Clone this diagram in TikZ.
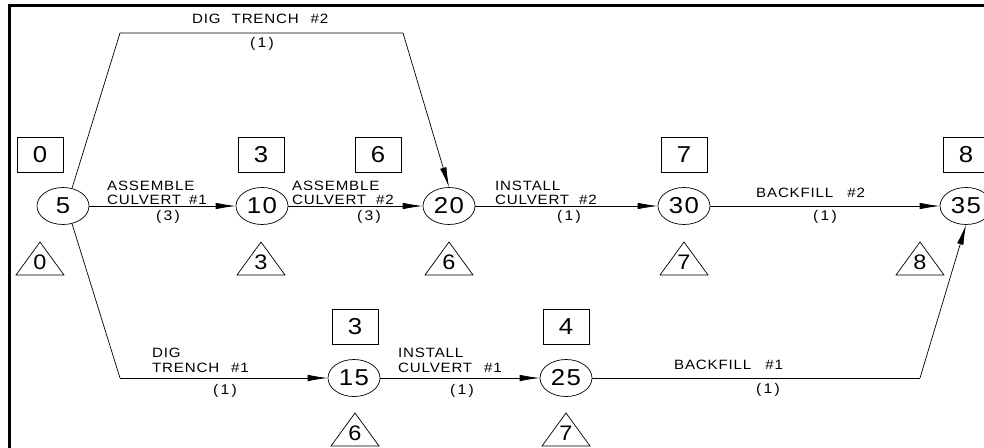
\documentclass[tikz,border=0pt]{standalone}
\usepackage{fontspec}
\setmainfont{Liberation Sans}[FakeStretch=1.12, LetterSpace=6]
\usetikzlibrary{shapes.geometric, arrows.meta}
\newcommand{\lagtri}[4]{%
  \draw[seg] (#2-24,#3+33) -- (#2,#3) -- (#2+24,#3+33) -- cycle;
  \node[tridig] (#1) at (#2,#3+20) {#4};}
\newcommand{\gap}[1]{\hspace{#1pt}}
\begin{document}
\begin{tikzpicture}[x=1pt,y=-1pt,
  seg/.style={line width=0.7pt},
  ev/.style={ellipse, draw, line width=0.7pt, minimum width=52pt, minimum height=37pt, inner sep=0pt, font=\fontsize{23}{23}\selectfont},
  ebox/.style={rectangle, draw, line width=0.7pt, minimum width=46pt, minimum height=35pt, inner sep=0pt, font=\fontsize{23}{23}\selectfont},
  tridig/.style={inner sep=0pt, font=\fontsize{21}{21}\selectfont},
  lbl/.style={inner sep=0pt, anchor=base west, font=\fontsize{13.5}{13.5}\selectfont},
  dur/.style={inner sep=0pt, anchor=center, font=\fontsize{14}{14}\selectfont},
  arr/.style={-{Latex[length=20pt,width=6.5pt]}, line width=0.7pt}]
\useasboundingbox (0,0) rectangle (984,447);
\clip (0,0) rectangle (984,447);
% frame
\draw[line width=3pt] (9.5,460) -- (9.5,5.3) -- (1000,5.3);
% events
\node[ev] (n5) at (63,206) {5};
\node[ev] (n10) at (262,206) {10};
\node[ev] (n20) at (449,206) {20};
\node[ev] (n30) at (684,206) {30};
\node[ev] (n35) at (966,206) {35};
\node[ev] (n15) at (354,378) {15};
\node[ev] (n25) at (566,378) {25};
% early times
\node[ebox] (b0) at (40,154.5) {0};
\node[ebox] (b3) at (261,154.5) {3};
\node[ebox] (b6) at (378,154.5) {6};
\node[ebox] (b7) at (684,154.5) {7};
\node[ebox] (b8) at (966,154.5) {8};
\node[ebox] (b3b) at (355,327) {3};
\node[ebox] (b4) at (566,327) {4};
% late times
\lagtri{t0}{40}{242}{0}
\lagtri{t3}{261}{242}{3}
\lagtri{t6}{449}{242}{6}
\lagtri{t7}{684}{242}{7}
\lagtri{t8}{920}{242}{8}
\lagtri{t6b}{355}{413}{6}
\lagtri{t7b}{566}{413}{7}
% bend points
\coordinate (c1) at (120,33);
\coordinate (c2) at (403,33);
\coordinate (c3) at (120,378);
\coordinate (c4) at (920,378);
% activities
\draw[arr] (n5) -- (n10);
\draw[arr] (n10) -- (n20);
\draw[arr] (n20) -- (n30);
\draw[arr] (n30) -- (n35);
\draw[arr] (n15) -- (n25);
\draw[seg] (n5.63) -- (c1) -- (c2);
\draw[arr] (c2) -- (n20.north);
\draw[seg] (n5.-63) -- (c3);
\draw[arr] (c3) -- (n15);
\draw[seg] (n25) -- (c4);
\draw[arr] (c4) -- (n35.south);
% labels
\node[lbl] (l1a) at (107,190) {ASSEMBLE};
\node[lbl] (l1b) at (107,204) {CULVERT\gap{8}\#1};
\node[dur] (l1c) at (168,217) {(\,3\,)};
\node[lbl] (l2a) at (292,190) {ASSEMBLE};
\node[lbl] (l2b) at (292,204) {CULVERT\gap{10}\#2};
\node[dur] (l2c) at (369,217) {(\,3\,)};
\node[lbl] (l3a) at (495,190) {INSTALL};
\node[lbl] (l3b) at (495,204) {CULVERT\gap{10}\#2};
\node[dur] (l3c) at (569,217) {(\,1\,)};
\node[lbl] (l4a) at (756,197) {BACKFILL\gap{14}\#2};
\node[dur] (l4c) at (825,217) {(\,1\,)};
\node[lbl] (l5a) at (192,23) {DIG\gap{11}TRENCH\gap{12}\#2};
\node[dur] (l5c) at (262,44) {(\,1\,)};
\node[lbl] (l6a) at (152,357) {DIG};
\node[lbl] (l6b) at (152,372) {TRENCH\gap{12}\#1};
\node[dur] (l6c) at (225,391) {(\,1\,)};
\node[lbl] (l7a) at (398,357) {INSTALL};
\node[lbl] (l7b) at (398,372) {CULVERT\gap{12}\#1};
\node[dur] (l7c) at (462,391) {(\,1\,)};
\node[lbl] (l8a) at (674,369) {BACKFILL\gap{14}\#1};
\node[dur] (l8c) at (768,390) {(\,1\,)};
\end{tikzpicture}
\end{document}
